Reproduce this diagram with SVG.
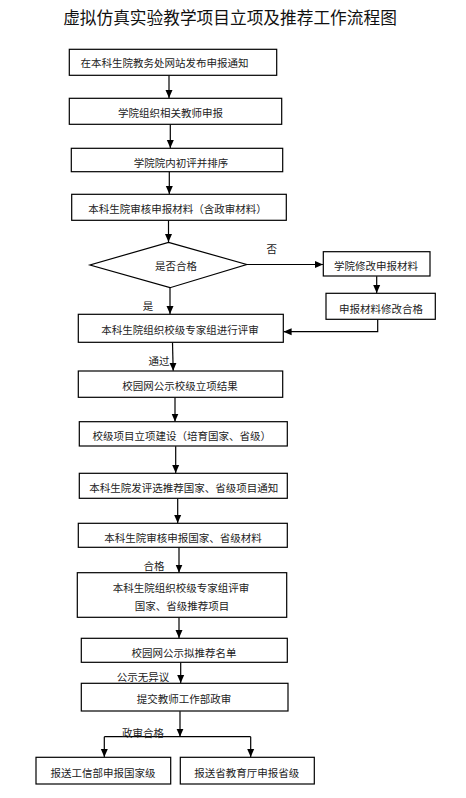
<svg xmlns="http://www.w3.org/2000/svg" width="466" height="798" viewBox="0 0 466 798">
<style>
.box{fill:#fff;stroke:#000;stroke-width:1.2}
.t{font-family:"Noto Sans CJK SC","Noto Sans",sans-serif;font-size:10.5px;fill:#222;text-anchor:middle;dominant-baseline:central}
.title{font-family:"Noto Sans CJK SC","Noto Sans",sans-serif;font-size:16.7px;fill:#111;text-anchor:middle;dominant-baseline:central}
.c{fill:none;stroke:#000;stroke-width:1.2}
.a{marker-end:url(#ah)}
</style>
<defs>
<marker id="ah" markerUnits="userSpaceOnUse" markerWidth="8" markerHeight="8" refX="8" refY="4" orient="auto">
<path d="M0,0.5 L8,4 L0,7.5 z" fill="#000"/>
</marker>
</defs>
<rect width="466" height="798" fill="#fff"/>
<text class="title" x="230" y="16.5">虚拟仿真实验教学项目立项及推荐工作流程图</text>

<g id="connectors">
<path class="c a" d="M169,75.5 V98"/>
<path class="c a" d="M170.3,124.5 V148"/>
<path class="c a" d="M169.3,171.8 V194"/>
<path class="c a" d="M168.5,220.5 V242"/>
<path class="c a" d="M247,264.5 H323"/>
<path class="c a" d="M376.7,276.2 V293"/>
<path class="c a" d="M377.7,319.5 V331.7 H283.6"/>
<path class="c a" d="M170,288 V314"/>
<path class="c a" d="M172.5,342.5 L173.2,370.8"/>
<path class="c a" d="M175,397.5 V421.5"/>
<path class="c a" d="M175.7,446.2 V473"/>
<path class="c a" d="M177.7,498.5 V523"/>
<path class="c a" d="M179,547.5 V572.5"/>
<path class="c a" d="M179,617.5 V638"/>
<path class="c a" d="M180.7,662.5 V683"/>
<path class="c a" d="M180,711.2 V736.7"/>
<path class="c" d="M104.3,736.7 H250.7"/>
<path class="c a" d="M104.3,736.7 V757"/>
<path class="c a" d="M250.7,736.7 V757"/>
<text class="t" x="271.7" y="248.3">否</text>
<text class="t" x="148" y="305">是</text>
<text class="t" x="159" y="360">通过</text>
<text class="t" x="154" y="565.7">合格</text>
<text class="t" x="143" y="676.7">公示无异议</text>
<text class="t" x="143" y="732.7">政审合格</text>
</g>

<g id="n1"><rect class="box" x="69.3" y="49.3" width="207.4" height="26"/><text class="t" x="164.5" y="62.7">在本科生院教务处网站发布申报通知</text></g>
<g id="n2"><rect class="box" x="69.3" y="98.3" width="212.4" height="26"/><text class="t" x="170.5" y="112.5">学院组织相关教师申报</text></g>
<g id="n3"><rect class="box" x="71.3" y="148.3" width="211.4" height="23.4"/><text class="t" x="181" y="162.8">学院院内初评并排序</text></g>
<g id="n4"><rect class="box" x="71.7" y="194.3" width="214.6" height="26"/><text class="t" x="177.5" y="208.8">本科生院审核申报材料（含政审材料）</text></g>
<g id="n5"><path class="box" d="M168.5,242.3 L246.7,264.5 L170,287.7 L90,265 Z"/><text class="t" x="176" y="265">是否合格</text></g>
<g id="n6"><rect class="box" x="323.3" y="251.7" width="106.7" height="24.3"/><text class="t" x="376" y="265">学院修改申报材料</text></g>
<g id="n7"><rect class="box" x="326" y="293.3" width="109.3" height="26"/><text class="t" x="381" y="308.3">申报材料修改合格</text></g>
<g id="n8"><rect class="box" x="78.3" y="314.3" width="205" height="28"/><text class="t" x="180" y="329">本科生院组织校级专家组进行评审</text></g>
<g id="n9"><rect class="box" x="78.3" y="371" width="204.4" height="26.3"/><text class="t" x="180" y="385">校园网公示校级立项结果</text></g>
<g id="n10"><rect class="box" x="79.3" y="421.7" width="208" height="24.3"/><text class="t" x="181.7" y="435.7">校级项目立项建设（培育国家、省级）</text></g>
<g id="n11"><rect class="box" x="79.3" y="473.3" width="208" height="25"/><text class="t" x="183.8" y="487.7">本科生院发评选推荐国家、省级项目通知</text></g>
<g id="n12"><rect class="box" x="78.3" y="523.3" width="209" height="24"/><text class="t" x="183" y="537.3">本科生院审核申报国家、省级材料</text></g>
<g id="n13"><rect class="box" x="77.3" y="572.7" width="209.4" height="44.6"/><text class="t" x="181" y="587.3">本科生院组织校级专家组评审</text><text class="t" x="182" y="605">国家、省级推荐项目</text></g>
<g id="n14"><rect class="box" x="81.3" y="638.3" width="206" height="24"/><text class="t" x="184" y="652.7">校园网公示拟推荐名单</text></g>
<g id="n15"><rect class="box" x="81.3" y="683.3" width="206.7" height="27.7"/><text class="t" x="184" y="698.3">提交教师工作部政审</text></g>
<g id="n16"><rect class="box" x="36" y="757.3" width="134.7" height="26.7"/><text class="t" x="103" y="772.3">报送工信部申报国家级</text></g>
<g id="n17"><rect class="box" x="180.3" y="757.3" width="134" height="26.7"/><text class="t" x="246.7" y="772.3">报送省教育厅申报省级</text></g>
</svg>
